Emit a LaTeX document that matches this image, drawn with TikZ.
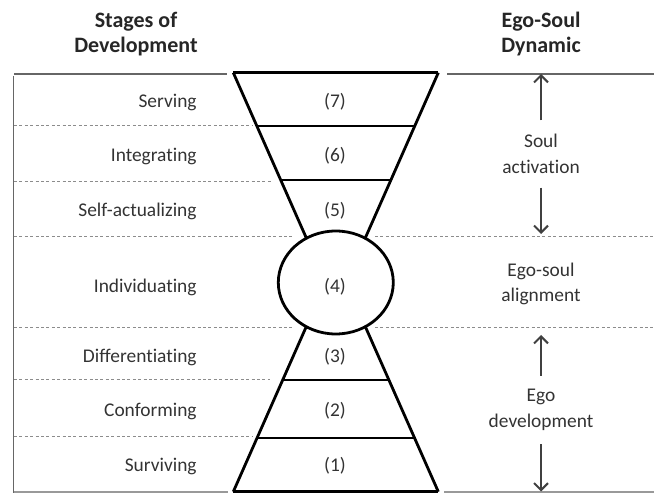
\documentclass[tikz,border=0pt]{standalone}
\usepackage{fontspec}
\setmainfont{Carlito}[Ligatures=NoCommon]
\usetikzlibrary{arrows.meta,shapes.geometric}
\tikzset{
  stage/.style={anchor=east,inner sep=0pt,text height=6.2pt,text depth=0pt,
    font=\fontsize{9.7}{12.7}\selectfont,text=black!80},
  num/.style={inner sep=0pt,text height=6.2pt,text depth=0pt,
    font=\fontsize{9.7}{12.7}\selectfont,text=black!80},
  dyn/.style={align=center,inner sep=0pt,outer sep=7pt,
    font=\fontsize{9.7}{12.7}\selectfont,text=black!80},
  head/.style={align=center,inner sep=0pt,
    font=\fontsize{11}{12.5}\selectfont\bfseries,text=black!85},
  rowline/.style={black!45,line width=0.5pt,dash pattern=on 1.5pt off 1.2pt},
  frame/.style={black!60,line width=0.9pt}
}
\begin{document}
\begin{tikzpicture}[line width=1.4pt,line join=round,>={Straight Barb[length=3.5pt,width=7pt]},x=0.5pt,y=0.5pt]
  \useasboundingbox (0,0) rectangle (654,493);
  % frame lines
  \draw[frame] (14,419) -- (227,419);
  \draw[frame] (447,419) -- (654,419);
  \draw[frame] (13.5,417) -- (13.5,0);
  \draw[frame,black!40] (14,0.8) -- (228,0.8);
  \draw[frame,black!40] (444,0.8) -- (654,0.8);
  % dashed row lines
  \foreach \y/\e in {367/252,311/272,256/293,165/293,113/270,56/252}{
    \draw[rowline] (14,\y) -- (\e,\y);
  }
  \foreach \y in {256,165}{
    \draw[rowline] (375,\y) -- (654,\y);
  }
  % upper funnel
  \draw (233.3,420.3) -- (438.3,420.3);
  \draw (233.3,420.3) -- (306.5,254.6);
  \draw (438.3,420.3) -- (365.1,254.6);
  \draw (256.9,367) -- (414.7,367);
  \draw (280.7,313) -- (390.9,313);
  % middle circle
  \draw (335.8,210.5) ellipse [x radius=57.5,y radius=51.5];
  % lower funnel
  \draw (233.3,1.3) -- (438.3,1.3);
  \draw (233.3,1.3) -- (306.3,166.4);
  \draw (438.3,1.3) -- (365.3,166.4);
  \draw (282.7,113) -- (388.9,113);
  \draw (257,55) -- (414.6,55);
  % headers
  \node[head] (hstage) at (136,459) {Stages of\\Development};
  \node[head] (hdyn) at (541,459) {Ego-Soul\\Dynamic};
  % stages and numbers
  \foreach \n/\y/\t in {7/392/Serving,6/338/Integrating,5/283/Self-actualizing,
      4/207/Individuating,3/137/Differentiating,2/83/Conforming,1/28/Surviving}{
    \node[stage] (s\n) at (198,\y) {\t};
    \node[num] (n\n) at (335,\y) {(\n)};
  }
  % dynamics
  \node[dyn] (soul) at (541,339) {Soul\\activation};
  \node[dyn] (align) at (541,209) {Ego-soul\\alignment};
  \node[dyn] (ego) at (541,83) {Ego\\development};
  \coordinate (soultop) at (541,419);
  \coordinate (alignup) at (541,259);
  \coordinate (aligndown) at (541,158);
  \coordinate (egobot) at (541,1.5);
  \draw[->,line width=1pt,black!75] (soul.north) -- (soultop);
  \draw[->,line width=1pt,black!75] (soul.south) -- (alignup);
  \draw[->,line width=1pt,black!75] (ego.north) -- (aligndown);
  \draw[->,line width=1pt,black!75] (ego.south) -- (egobot);
\end{tikzpicture}
\end{document}
